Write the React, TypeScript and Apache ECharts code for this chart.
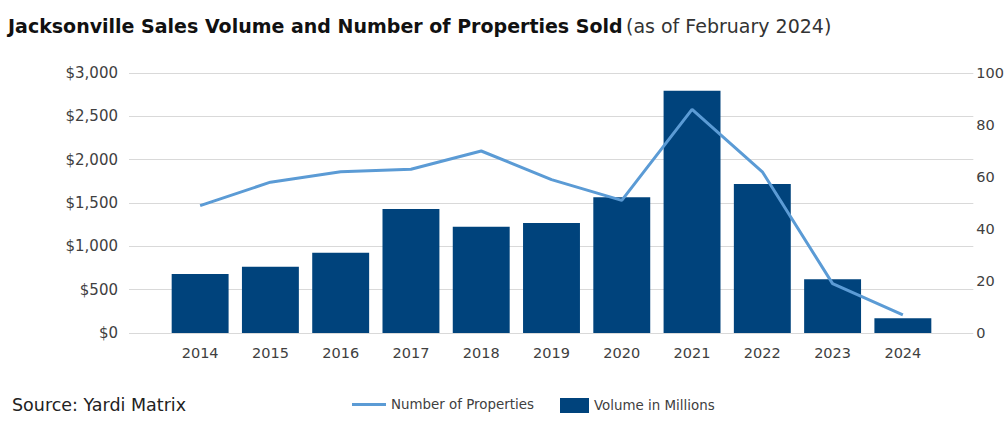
import React, { useEffect, useRef } from "react";
import * as echarts from "echarts";

const years = ["2014", "2015", "2016", "2017", "2018", "2019", "2020", "2021", "2022", "2023", "2024"];
const volumeMillions = [680, 765, 925, 1430, 1225, 1270, 1565, 2795, 1720, 620, 170];
const propertyCount = [49, 58, 62, 63, 70, 59, 51, 86, 62, 19, 7];

const BAR_COLOR = "#00437c";
const LINE_COLOR = "#5b9bd5";
const TEXT_COLOR = "#404040";
const FONT = "'DejaVu Sans', sans-serif";

const GRID_TOP = 73;
const GRID_BOTTOM = 100;

export default function App() {
  const ref = useRef<HTMLDivElement>(null);

  useEffect(() => {
    if (!ref.current) return;
    document.body.style.margin = "0";
    const chart = echarts.init(ref.current, undefined, { renderer: "svg" });
    chart.setOption({
      animation: false,
      backgroundColor: "#ffffff",
      textStyle: { fontFamily: FONT },
      graphic: [
        {
          type: "text",
          left: 8,
          top: 16,
          style: {
            text: "{b|Jacksonville Sales Volume and Number of Properties Sold} {n|(as of February 2024)}",
            rich: {
              b: { fontFamily: FONT, fontWeight: "bold", fontSize: 19, fill: "#111111" },
              n: { fontFamily: FONT, fontSize: 19, fill: "#333333" },
            },
          },
        },
        {
          type: "text",
          left: 12,
          top: 396,
          style: { text: "Source: Yardi Matrix", fontFamily: FONT, fontSize: 17.5, fill: "#222222" },
        },
      ],
      legend: [
        {
          left: 347,
          top: 393,
          itemWidth: 34,
          itemHeight: 3,
          icon: "rect",
          textStyle: { color: TEXT_COLOR, fontSize: 13.4, fontFamily: FONT },
          data: ["Number of Properties"],
        },
        {
          left: 555,
          top: 393,
          itemWidth: 29,
          itemHeight: 15,
          icon: "rect",
          textStyle: { color: TEXT_COLOR, fontSize: 13.4, fontFamily: FONT },
          data: ["Volume in Millions"],
        },
      ],
      grid: [
        { left: 129, right: 32, top: GRID_TOP, bottom: GRID_BOTTOM },
        { left: 165, right: 69, top: GRID_TOP, bottom: GRID_BOTTOM },
      ],
      xAxis: [
        { type: "category", gridIndex: 0, data: years, show: false },
        {
          type: "category",
          gridIndex: 1,
          data: years,
          axisLine: { show: false },
          axisTick: { show: false },
          axisLabel: { color: TEXT_COLOR, fontSize: 14.5, margin: 12 },
        },
      ],
      yAxis: [
        {
          type: "value",
          gridIndex: 0,
          position: "left",
          min: 0,
          max: 3000,
          interval: 500,
          axisLine: { show: false },
          axisTick: { show: false },
          splitLine: { lineStyle: { color: "#d9d9d9", width: 1 } },
          axisLabel: {
            color: TEXT_COLOR,
            fontSize: 15,
            margin: 11,
            formatter: (v: number) => "$" + v.toLocaleString("en-US"),
          },
        },
        {
          type: "value",
          gridIndex: 0,
          position: "right",
          min: 0,
          max: 100,
          interval: 20,
          axisLine: { show: false },
          axisTick: { show: false },
          splitLine: { show: false },
          axisLabel: { color: TEXT_COLOR, fontSize: 14.5, margin: 3 },
        },
        { type: "value", gridIndex: 1, min: 0, max: 3000, show: false, splitLine: { show: false } },
        { type: "value", gridIndex: 1, min: 0, max: 100, show: false, splitLine: { show: false } },
      ],
      series: [
        {
          name: "Volume in Millions",
          type: "bar",
          xAxisIndex: 1,
          yAxisIndex: 2,
          data: volumeMillions,
          barCategoryGap: "19%",
          itemStyle: { color: BAR_COLOR },
          z: 1,
        },
        {
          name: "Number of Properties",
          type: "line",
          xAxisIndex: 1,
          yAxisIndex: 3,
          data: propertyCount,
          symbol: "none",
          lineStyle: { color: LINE_COLOR, width: 3 },
          itemStyle: { color: LINE_COLOR },
          z: 2,
        },
      ],
    });
    return () => chart.dispose();
  }, []);

  return <div ref={ref} style={{ width: 1007, height: 433 }} />;
}
